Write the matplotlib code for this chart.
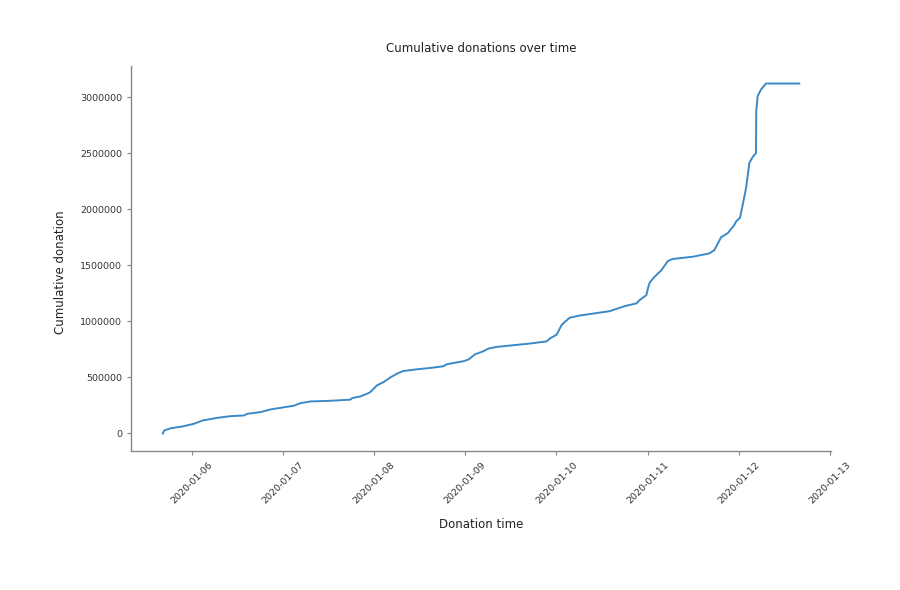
import matplotlib
matplotlib.use('Agg')
import matplotlib.pyplot as plt
import matplotlib.dates as mdates
import pandas as pd

# cumulative donations
donation_time = [
    "2020-01-05 16:23", "2020-01-05 16:44", "2020-01-05 18:29", "2020-01-05 21:34",
    "2020-01-06 00:36", "2020-01-06 02:49", "2020-01-06 06:45", "2020-01-06 10:14",
    "2020-01-06 13:44", "2020-01-06 14:38", "2020-01-06 18:07", "2020-01-06 20:45",
    "2020-01-07 02:52", "2020-01-07 04:37", "2020-01-07 07:15", "2020-01-07 12:30",
    "2020-01-07 17:45", "2020-01-07 18:12", "2020-01-07 20:23", "2020-01-07 22:33",
    "2020-01-07 23:00", "2020-01-08 00:46", "2020-01-08 02:30", "2020-01-08 04:15",
    "2020-01-08 06:01", "2020-01-08 07:45", "2020-01-08 11:16", "2020-01-08 14:45",
    "2020-01-08 18:15", "2020-01-08 19:08", "2020-01-08 23:30", "2020-01-09 00:49",
    "2020-01-09 02:34", "2020-01-09 04:45", "2020-01-09 06:04", "2020-01-09 08:16",
    "2020-01-09 12:38", "2020-01-09 17:01", "2020-01-09 21:24", "2020-01-09 22:16",
    "2020-01-10 00:02", "2020-01-10 01:20", "2020-01-10 02:12", "2020-01-10 03:31",
    "2020-01-10 06:08", "2020-01-10 14:01", "2020-01-10 15:20", "2020-01-10 17:58",
    "2020-01-10 21:02", "2020-01-10 21:54", "2020-01-10 23:40", "2020-01-11 00:05",
    "2020-01-11 00:32", "2020-01-11 01:50", "2020-01-11 03:36", "2020-01-11 05:20",
    "2020-01-11 06:38", "2020-01-11 11:54", "2020-01-11 16:17", "2020-01-11 17:35",
    "2020-01-11 19:21", "2020-01-11 21:05", "2020-01-11 22:50", "2020-01-11 23:17",
    "2020-01-12 00:20", "2020-01-12 01:02", "2020-01-12 01:55", "2020-01-12 02:47",
    "2020-01-12 03:39", "2020-01-12 04:32", "2020-01-12 04:36", "2020-01-12 04:58",
    "2020-01-12 05:52", "2020-01-12 07:10", "2020-01-12 15:55",
]
cumulative = [
    0, 27000, 47000, 63000,
    87000, 116000, 140000, 155000,
    161000, 176000, 191000, 215000,
    248000, 271000, 286000, 292000,
    302000, 316000, 331000, 361000,
    370000, 430000, 459000, 500000,
    534000, 558000, 573000, 585000,
    600000, 618000, 645000, 660000,
    707000, 734000, 758000, 773000,
    788000, 803000, 822000, 848000,
    882000, 967000, 996000, 1034000,
    1053000, 1092000, 1107000, 1137000,
    1161000, 1191000, 1235000, 1295000,
    1347000, 1399000, 1456000, 1540000,
    1558000, 1578000, 1608000, 1638000,
    1752000, 1788000, 1862000, 1892000,
    1927000, 2041000, 2191000, 2415000,
    2468000, 2504000, 2877000, 3011000,
    3071000, 3124000, 3124000,
]

times = pd.to_datetime(donation_time)

fig = plt.figure(figsize=(9, 5.9), dpi=100)
ax = fig.add_axes([0.1456, 0.2356, 0.7778, 0.6525])

ax.plot(times, cumulative, color='#3b89c6', linewidth=1.4)

ax.set_title('Cumulative donations over time', fontsize=8.5, color='#222222', pad=10)
ax.set_xlabel('Donation time', fontsize=8.5, color='#222222')
ax.set_ylabel('Cumulative donation', fontsize=8.5, color='#222222')
ax.xaxis.set_label_coords(0.5, -0.174)
ax.yaxis.set_label_coords(-0.0914, 0.465)

ax.xaxis.set_major_locator(mdates.DayLocator())
ax.xaxis.set_major_formatter(mdates.DateFormatter('%Y-%m-%d'))
ax.ticklabel_format(axis='y', style='plain')

for spine in ['top', 'right']:
    ax.spines[spine].set_visible(False)
for spine in ['left', 'bottom']:
    ax.spines[spine].set_color('#888888')
    ax.spines[spine].set_linewidth(1.0)

ax.tick_params(axis='both', labelsize=6.8, colors='#888888', labelcolor='#333333',
               length=3, width=0.8)
plt.setp(ax.get_xticklabels(), rotation=45, ha='center')

fig.savefig('out.png')
